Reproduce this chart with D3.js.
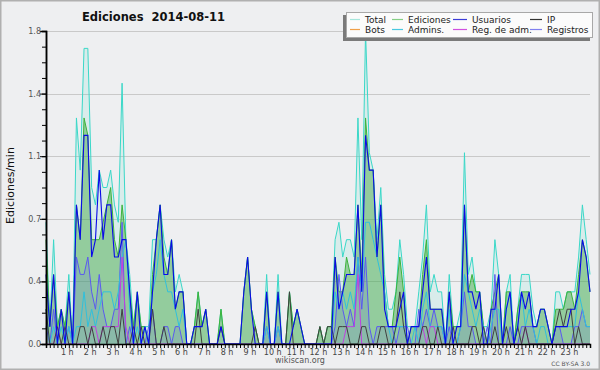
<!DOCTYPE html>
<html lang="es">
<head>
<meta charset="utf-8">
<title>Ediciones 2014-08-11</title>
<script src="https://d3js.org/d3.v7.min.js"></script>
<style>
  body { margin: 0; background: #eeeff1; }
  svg { display: block; }
  text { font-family: "DejaVu Sans", sans-serif; }
</style>
</head>
<body>
<div id="chart"></div>
<script>
// one value per 10 minutes (144 per day), in edits per minute
var total = [
  0.7,0.1,0.6,0.1,0.2,0.1, 0.4,0.0,1.3,1.0,1.7,1.7, 0.9,0.8,1.0,0.9,0.9,1.0, 0.8,0.7,1.5,0.6,0.4,0.1,
  0.3,0.1,0.1,0.1,0.6,0.6, 0.8,0.6,0.5,0.6,0.3,0.4, 0.3,0.0,0.0,0.1,0.3,0.1, 0.2,0.0,0.0,0.0,0.2,0.0,
  0.0,0.0,0.0,0.0,0.3,0.5, 0.2,0.1,0.0,0.0,0.4,0.0, 0.0,0.4,0.0,0.0,0.3,0.1, 0.2,0.1,0.0,0.0,0.0,0.0,
  0.1,0.0,0.1,0.1,0.6,0.7, 0.5,0.6,0.6,0.5,1.3,0.6, 1.8,1.1,1.0,0.6,0.9,0.4, 0.2,0.2,0.3,0.6,0.4,0.1,
  0.1,0.1,0.3,0.5,0.8,0.3, 0.4,0.3,0.3,0.0,0.4,0.1, 0.1,0.2,1.1,0.4,0.5,0.3, 0.3,0.1,0.1,0.2,0.6,0.4,
  0.0,0.3,0.4,0.0,0.2,0.4, 0.4,0.4,0.2,0.1,0.2,0.2, 0.1,0.0,0.3,0.3,0.2,0.3, 0.3,0.3,0.5,0.8,0.6,0.4
];
var ediciones = [
  0.6,0.1,0.4,0.1,0.2,0.1, 0.3,0.0,0.8,0.6,1.3,1.2, 0.6,0.6,0.6,0.7,0.8,0.9, 0.6,0.5,0.8,0.6,0.3,0.1,
  0.3,0.1,0.1,0.0,0.4,0.6, 0.8,0.5,0.4,0.6,0.2,0.3, 0.3,0.0,0.0,0.1,0.3,0.1, 0.2,0.0,0.0,0.0,0.2,0.0,
  0.0,0.0,0.0,0.0,0.3,0.5, 0.2,0.1,0.0,0.0,0.3,0.0, 0.0,0.3,0.0,0.0,0.3,0.1, 0.2,0.1,0.0,0.0,0.0,0.0,
  0.1,0.0,0.1,0.1,0.5,0.3, 0.3,0.5,0.4,0.4,0.8,0.4, 1.3,1.0,1.0,0.5,0.8,0.3, 0.1,0.1,0.3,0.5,0.3,0.0,
  0.1,0.1,0.1,0.4,0.6,0.2, 0.2,0.2,0.2,0.0,0.3,0.1, 0.1,0.1,0.8,0.3,0.4,0.3, 0.3,0.1,0.0,0.2,0.3,0.4,
  0.0,0.3,0.3,0.0,0.2,0.3, 0.3,0.3,0.1,0.1,0.2,0.2, 0.1,0.0,0.2,0.2,0.2,0.3, 0.3,0.2,0.4,0.6,0.5,0.3
];
var usuarios = [
  0.4,0.1,0.4,0.0,0.2,0.0, 0.3,0.0,0.8,0.6,1.2,1.2, 0.5,0.6,1.0,0.6,0.8,0.8, 0.5,0.5,0.6,0.6,0.3,0.0,
  0.3,0.0,0.1,0.0,0.3,0.6, 0.8,0.4,0.4,0.6,0.2,0.3, 0.3,0.0,0.0,0.1,0.1,0.1, 0.2,0.0,0.0,0.0,0.1,0.0,
  0.0,0.0,0.0,0.0,0.3,0.5, 0.2,0.0,0.0,0.0,0.3,0.0, 0.0,0.3,0.0,0.0,0.0,0.1, 0.2,0.1,0.0,0.0,0.0,0.0,
  0.0,0.0,0.0,0.0,0.5,0.2, 0.3,0.4,0.4,0.4,0.8,0.3, 1.2,1.0,1.0,0.5,0.8,0.2, 0.1,0.1,0.1,0.2,0.3,0.0,
  0.1,0.1,0.1,0.3,0.5,0.2, 0.2,0.2,0.2,0.0,0.3,0.0, 0.1,0.1,0.8,0.3,0.3,0.2, 0.3,0.0,0.0,0.2,0.2,0.4,
  0.0,0.2,0.3,0.0,0.1,0.3, 0.2,0.3,0.1,0.1,0.2,0.2, 0.1,0.0,0.1,0.1,0.1,0.1, 0.2,0.2,0.3,0.6,0.5,0.3
];
var ip = [
  0.2,0.0,0.0,0.1,0.0,0.1, 0.0,0.0,0.0,0.1,0.1,0.0, 0.1,0.0,0.0,0.1,0.0,0.1, 0.1,0.0,0.2,0.0,0.0,0.1,
  0.0,0.1,0.0,0.0,0.2,0.0, 0.0,0.1,0.0,0.0,0.0,0.0, 0.0,0.0,0.0,0.0,0.2,0.0, 0.0,0.0,0.0,0.0,0.1,0.0,
  0.0,0.0,0.0,0.0,0.0,0.0, 0.0,0.1,0.0,0.0,0.0,0.0, 0.0,0.0,0.0,0.0,0.3,0.0, 0.0,0.0,0.0,0.0,0.0,0.0,
  0.1,0.0,0.1,0.1,0.0,0.1, 0.1,0.1,0.0,0.0,0.0,0.1, 0.1,0.0,0.0,0.0,0.1,0.1, 0.0,0.0,0.1,0.3,0.1,0.0,
  0.0,0.0,0.0,0.1,0.1,0.0, 0.0,0.1,0.0,0.0,0.0,0.1, 0.0,0.0,0.0,0.0,0.1,0.1, 0.0,0.1,0.0,0.0,0.1,0.0,
  0.0,0.1,0.0,0.0,0.1,0.0, 0.1,0.0,0.0,0.0,0.0,0.0, 0.0,0.0,0.1,0.2,0.1,0.2, 0.2,0.0,0.1,0.0,0.0,0.0
];
var admins = [
  0.2,0.0,0.1,0.0,0.1,0.0, 0.1,0.0,0.1,0.1,0.3,0.1, 0.2,0.1,0.2,0.3,0.3,0.3, 0.2,0.3,0.5,0.6,0.2,0.0,
  0.1,0.0,0.1,0.0,0.3,0.4, 0.6,0.4,0.3,0.3,0.2,0.1, 0.2,0.0,0.0,0.0,0.0,0.0, 0.0,0.0,0.0,0.0,0.0,0.0,
  0.0,0.0,0.0,0.0,0.0,0.0, 0.0,0.0,0.0,0.0,0.1,0.0, 0.0,0.1,0.0,0.0,0.0,0.0, 0.0,0.0,0.0,0.0,0.0,0.0,
  0.0,0.0,0.0,0.0,0.3,0.2, 0.3,0.2,0.3,0.2,0.5,0.3, 0.7,0.7,0.6,0.5,0.4,0.3, 0.1,0.0,0.1,0.1,0.1,0.0,
  0.0,0.1,0.0,0.2,0.3,0.1, 0.1,0.1,0.1,0.0,0.2,0.0, 0.0,0.1,0.4,0.3,0.2,0.1, 0.2,0.1,0.0,0.1,0.2,0.2,
  0.0,0.2,0.3,0.0,0.1,0.3, 0.1,0.2,0.1,0.0,0.1,0.1, 0.0,0.0,0.1,0.1,0.1,0.1, 0.1,0.1,0.3,0.2,0.1,0.1
];
var regAdm = [
  0.0,0.0,0.0,0.1,0.0,0.0, 0.0,0.0,0.0,0.0,0.0,0.0, 0.1,0.1,0.0,0.1,0.1,0.1, 0.1,0.1,0.5,0.1,0.0,0.0,
  0.0,0.0,0.0,0.0,0.0,0.0, 0.0,0.0,0.0,0.0,0.0,0.0, 0.0,0.0,0.0,0.0,0.0,0.0, 0.0,0.0,0.0,0.0,0.0,0.0,
  0.0,0.0,0.0,0.0,0.0,0.0, 0.0,0.0,0.0,0.0,0.0,0.0, 0.0,0.0,0.0,0.0,0.0,0.0, 0.0,0.0,0.0,0.0,0.0,0.0,
  0.0,0.0,0.0,0.0,0.0,0.0, 0.0,0.1,0.1,0.1,0.4,0.0, 0.0,0.0,0.0,0.0,0.0,0.0, 0.0,0.0,0.0,0.0,0.0,0.0,
  0.0,0.0,0.0,0.1,0.0,0.1, 0.1,0.0,0.0,0.0,0.0,0.0, 0.0,0.0,0.0,0.0,0.0,0.0, 0.0,0.0,0.0,0.0,0.0,0.0,
  0.0,0.0,0.0,0.0,0.0,0.0, 0.1,0.0,0.0,0.0,0.0,0.0, 0.0,0.0,0.0,0.0,0.0,0.0, 0.0,0.0,0.0,0.0,0.0,0.0
];
var registros = [
  0.1,0.0,0.2,0.0,0.0,0.0, 0.1,0.0,0.5,0.4,0.4,0.5, 0.3,0.2,0.4,0.2,0.1,0.1, 0.2,0.2,0.7,0.0,0.1,0.0,
  0.0,0.0,0.0,0.1,0.2,0.0, 0.0,0.1,0.1,0.0,0.1,0.1, 0.0,0.0,0.0,0.0,0.0,0.0, 0.0,0.0,0.0,0.0,0.0,0.0,
  0.0,0.0,0.0,0.0,0.0,0.0, 0.0,0.0,0.0,0.0,0.1,0.0, 0.0,0.1,0.0,0.0,0.0,0.0, 0.0,0.0,0.0,0.0,0.0,0.0,
  0.0,0.0,0.0,0.0,0.1,0.4, 0.2,0.1,0.2,0.1,0.5,0.2, 0.5,0.1,0.0,0.1,0.1,0.1, 0.1,0.1,0.0,0.1,0.1,0.1,
  0.0,0.0,0.2,0.1,0.2,0.1, 0.2,0.1,0.1,0.0,0.1,0.0, 0.0,0.1,0.3,0.1,0.1,0.0, 0.0,0.0,0.1,0.0,0.4,0.0,
  0.0,0.0,0.1,0.0,0.0,0.1, 0.1,0.1,0.1,0.0,0.0,0.0, 0.0,0.0,0.1,0.1,0.0,0.0, 0.0,0.1,0.1,0.2,0.1,0.1
];

var yTicks = [0, 0.36, 0.72, 1.08, 1.44, 1.8];
var hourLabels = ["1 h","2 h","3 h","4 h","5 h","6 h","7 h","8 h","9 h","10 h","11 h","12 h",
                  "13 h","14 h","15 h","16 h","17 h","18 h","19 h","20 h","21 h","22 h","23 h"];
var legendItems = [
  {name: "Total", color: "#a6e6dc"}, {name: "Ediciones", color: "#86cf86"},
  {name: "Usuarios", color: "#3c3cd8"}, {name: "IP", color: "#333333"},
  {name: "Bots", color: "#f0a048"}, {name: "Admins.", color: "#48c8e0"},
  {name: "Reg. de adm.", color: "#d050e0"}, {name: "Registros", color: "#8080f0"}
];

var width = 600, height = 370;
var svg = d3.select("#chart").append("svg")
    .attr("width", width)
    .attr("height", height);

svg.append("rect")
    .attr("x", 0.5).attr("y", 0.5)
    .attr("width", width - 1).attr("height", height - 1)
    .attr("fill", "#eeeff1")
    .attr("stroke", "#b0b0b0").attr("stroke-width", 2);

var x = d3.scaleLinear().domain([0, total.length - 1]).range([46, 590]);
var y = d3.scaleLinear().domain([0, 1.8]).range([344, 31]);

// grid
svg.append("g").selectAll("line")
    .data(yTicks.slice(1))
    .enter().append("line")
    .attr("x1", 46).attr("x2", 590)
    .attr("y1", function(d) { return Math.round(y(d)) + 0.5; })
    .attr("y2", function(d) { return Math.round(y(d)) + 0.5; })
    .attr("stroke", "#c9c9c9");

function area(vals) {
  return d3.area()
      .x(function(d, i) { return x(i); })
      .y0(y(0))
      .y1(function(d) { return y(d); })(vals);
}
function line(vals) {
  return d3.line()
      .x(function(d, i) { return x(i); })
      .y(function(d) { return y(d); })(vals);
}

var plot = svg.append("g");
plot.append("path").attr("d", area(total)).attr("fill", "#40d8c8").attr("fill-opacity", 0.12);
plot.append("path").attr("d", line(total)).attr("fill", "none").attr("stroke", "#3ad8c8").attr("stroke-width", 1);
plot.append("path").attr("d", area(ediciones)).attr("fill", "#3fa63f").attr("fill-opacity", 0.45);
plot.append("path").attr("d", line(ediciones)).attr("fill", "none").attr("stroke", "#3cb43c").attr("stroke-width", 1);
plot.append("path").attr("d", area(registros)).attr("fill", "#5a5af0").attr("fill-opacity", 0.15);
plot.append("path").attr("d", line(registros)).attr("fill", "none").attr("stroke", "#5a5af0").attr("stroke-width", 1);
plot.append("path").attr("d", line(admins)).attr("fill", "none").attr("stroke", "#30c0dc").attr("stroke-width", 1);
plot.append("path").attr("d", line(regAdm)).attr("fill", "none").attr("stroke", "#c040e0").attr("stroke-width", 1);
plot.append("path").attr("d", line(ip)).attr("fill", "none").attr("stroke", "#404040").attr("stroke-width", 1);
plot.append("path").attr("d", line(usuarios)).attr("fill", "none").attr("stroke", "#0a0ae8").attr("stroke-width", 1.1);

// y axis
var yAxisMinor = svg.append("g").attr("transform", "translate(46,0)")
    .call(d3.axisLeft(y).tickValues(d3.range(0, 21).map(function(k) { return k * 0.09; }))
      .tickSize(4).tickFormat(""));
var yAxis = svg.append("g").attr("transform", "translate(46,0)")
    .call(d3.axisLeft(y).tickValues(yTicks).tickSize(6).tickFormat(d3.format(".1f")));
[yAxisMinor, yAxis].forEach(function(g) {
  g.select(".domain").attr("stroke", "#000").attr("stroke-width", 1.5);
  g.selectAll(".tick line").attr("stroke", "#000");
});
yAxis.selectAll(".tick text")
    .attr("font-family", "DejaVu Sans").attr("font-size", 8).attr("fill", "#555")
    .attr("x", -5).attr("dy", "0.3em");

// x axis
var xAxis = svg.append("g").attr("transform", "translate(0,344)")
    .call(d3.axisBottom(x).tickValues(d3.range(0, total.length)).tickSize(4).tickFormat(""));
xAxis.select(".domain").attr("stroke", "#000").attr("stroke-width", 1.5);
xAxis.selectAll(".tick line").attr("stroke", "#000");

svg.append("g").selectAll("text")
    .data(hourLabels)
    .enter().append("text")
    .attr("x", function(d, i) { return x((i + 1) * 6) - 1.5; })
    .attr("y", 354.5)
    .attr("text-anchor", "middle")
    .attr("font-size", 8).attr("fill", "#444")
    .text(function(d) { return d; });

// titles
svg.append("text")
    .attr("x", 153.5).attr("y", 21)
    .attr("text-anchor", "middle")
    .attr("font-family", "DejaVu Sans").attr("font-weight", "bold").attr("font-size", 11.5)
    .attr("fill", "#111")
    .style("white-space", "pre")
    .text("Ediciones  2014-08-11");

svg.append("text")
    .attr("transform", "translate(13.5,185.5) rotate(-90)")
    .attr("text-anchor", "middle")
    .attr("font-family", "DejaVu Sans Mono").attr("font-size", 11)
    .attr("fill", "#111")
    .text("Ediciones/min");

svg.append("text")
    .attr("x", 300).attr("y", 363)
    .attr("text-anchor", "middle")
    .attr("font-size", 8).attr("fill", "#555")
    .text("wikiscan.org");

svg.append("text")
    .attr("x", 590).attr("y", 365.5)
    .attr("text-anchor", "end")
    .attr("font-size", 6).attr("fill", "#555")
    .text("CC BY-SA 3.0");

// legend
var legend = svg.append("g");
legend.append("rect").attr("x", 343).attr("y", 15).attr("width", 247).attr("height", 26).attr("fill", "#7a7a7a");
legend.append("rect").attr("x", 346.5).attr("y", 12.5).attr("width", 246).attr("height", 25)
    .attr("fill", "#fbfbfb").attr("stroke", "#a8a8a8");
var colX = [350, 392, 453, 530];
var colW = [10, 11, 14, 12];
var item = legend.selectAll("g.item")
    .data(legendItems)
    .enter().append("g")
    .attr("transform", function(d, i) { return "translate(" + colX[i % 4] + "," + (i < 4 ? 19 : 29) + ")"; });
item.append("line")
    .attr("x1", 0).attr("x2", function(d, i) { return colW[i % 4]; })
    .attr("y1", 0.5).attr("y2", 0.5)
    .attr("stroke", function(d) { return d.color; })
    .attr("stroke-width", 1.2);
item.append("text")
    .attr("x", function(d, i) { return colW[i % 4] + 5; })
    .attr("y", 3.5)
    .attr("font-size", 9).attr("fill", "#222")
    .text(function(d) { return d.name; });
</script>
</body>
</html>
